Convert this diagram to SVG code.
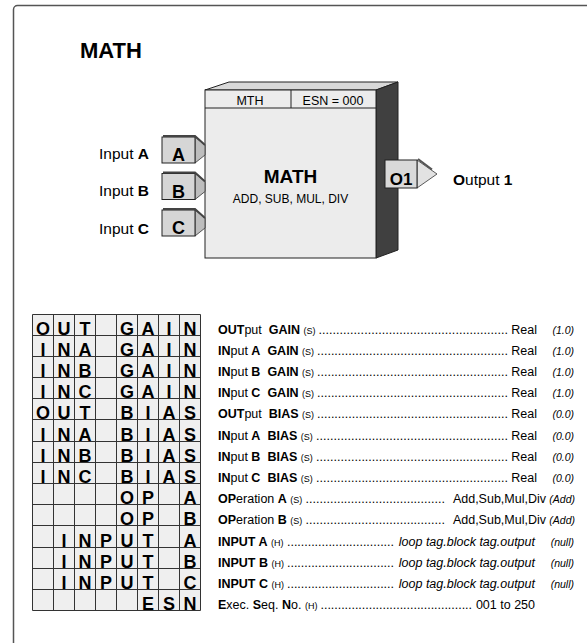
<svg xmlns="http://www.w3.org/2000/svg" width="587" height="643" viewBox="0 0 587 643">
<style>
text{font-family:"Liberation Sans",Arial,sans-serif;fill:#000}
.b{font-weight:bold}
.t{font-size:12.5px}
.s{font-size:9px}
.d{font-size:10.5px;font-style:italic}
.it{font-style:italic}
.g{font-size:18px;font-weight:bold;text-anchor:middle}
.lbl{font-size:15.5px}
.tabL{font-size:18px;font-weight:bold;text-anchor:middle}
.tab{fill:#d6d6d6;stroke:#222;stroke-width:1}
.tabside{fill:#bdbdbd;stroke:#333;stroke-width:0.8}
.bevel{fill:none;stroke:#444;stroke-width:2}
.end{text-anchor:end}
</style>
<rect width="587" height="643" fill="#fff"/>
<rect x="13.5" y="5.5" width="640" height="720" rx="4" fill="none" stroke="#555" stroke-width="1.5"/>
<text x="80" y="58" class="b" font-size="22">MATH</text>

<g id="math-block">
  <polygon points="205,90 229,82 398,82 376,90" fill="#d9d9d9" stroke="#222" stroke-width="1"/>
  <polygon points="376,90 398,82 398,250 376,258" fill="#404040" stroke="#222" stroke-width="1"/>
  <rect x="205" y="90" width="171" height="168" fill="#ececec" stroke="#222" stroke-width="1"/>
  <line x1="205" y1="108" x2="376" y2="108" stroke="#222" stroke-width="1"/>
  <line x1="291" y1="90" x2="291" y2="108" stroke="#222" stroke-width="1"/>
  <text x="250" y="105" font-size="12.5" text-anchor="middle">MTH</text>
  <text x="333" y="105" font-size="12.5" text-anchor="middle">ESN = 000</text>
  <text x="290.5" y="183" class="b" font-size="19" text-anchor="middle">MATH</text>
  <text x="290.5" y="203" font-size="12" text-anchor="middle">ADD, SUB, MUL, DIV</text>
</g>

<g id="input-a">
  <text x="149" y="159" class="lbl end">Input <tspan class="b">A</tspan></text>
  <polygon class="tabside" points="195,137 205,145 205,155 195,163"/>
  <rect class="tab" x="162" y="137" width="33" height="26"/>
  <polyline class="bevel" points="163,136 195,136 205,145"/>
  <text x="178.5" y="161" class="tabL">A</text>
</g>
<g id="input-b">
  <text x="149" y="196" class="lbl end">Input <tspan class="b">B</tspan></text>
  <polygon class="tabside" points="195,173.5 205,181.5 205,191.5 195,199.5"/>
  <rect class="tab" x="162" y="173.5" width="33" height="26"/>
  <polyline class="bevel" points="163,172.5 195,172.5 205,181.5"/>
  <text x="178.5" y="197.5" class="tabL">B</text>
</g>
<g id="input-c">
  <text x="149" y="234" class="lbl end">Input <tspan class="b">C</tspan></text>
  <polygon class="tabside" points="195,210 205,218 205,228 195,236"/>
  <rect class="tab" x="162" y="210" width="33" height="26"/>
  <polyline class="bevel" points="163,209 195,209 205,218"/>
  <text x="178.5" y="234" class="tabL">C</text>
</g>
<g id="output-1">
  <polygon points="417,160 437,174 417,188" fill="#e2e2e2" stroke="#333" stroke-width="0.8"/>
  <rect x="385" y="160" width="32" height="28" fill="#d9d9d9" stroke="#222" stroke-width="1"/>
  <line x1="418" y1="159" x2="432" y2="169.5" stroke="#555" stroke-width="2"/>
  <text x="401" y="185" class="b" font-size="17" text-anchor="middle">O1</text>
  <text x="453" y="184.5" class="lbl"><tspan class="b">O</tspan>utput <tspan class="b">1</tspan></text>
</g>
<g id="connectors"></g>

<g id="param-grid">
  <rect x="32.5" y="314.5" width="168" height="296" fill="#efefef"/>
  <path d="M32.5 314.5V610.5M53.5 314.5V610.5M74.5 314.5V610.5M95.5 314.5V610.5M116.5 314.5V610.5M137.5 314.5V610.5M158.5 314.5V610.5M179.5 314.5V610.5M200.5 314.5V610.5M32.5 314.5H200.5M32.5 335.5H200.5M32.5 356.5H200.5M32.5 377.5H200.5M32.5 398.5H200.5M32.5 419.5H200.5M32.5 441.5H200.5M32.5 462.5H200.5M32.5 483.5H200.5M32.5 504.5H200.5M32.5 525.5H200.5M32.5 547.5H200.5M32.5 568.5H200.5M32.5 589.5H200.5M32.5 610.5H200.5" fill="none" stroke="#333" stroke-width="1"/>
  <text class="g" y="335" x="43 64 85">OUT</text><text class="g" y="335" x="127 148 169 190">GAIN</text>
  <text class="g" y="356" x="43 64 85">INA</text><text class="g" y="356" x="127 148 169 190">GAIN</text>
  <text class="g" y="377" x="43 64 85">INB</text><text class="g" y="377" x="127 148 169 190">GAIN</text>
  <text class="g" y="398" x="43 64 85">INC</text><text class="g" y="398" x="127 148 169 190">GAIN</text>
  <text class="g" y="419" x="43 64 85">OUT</text><text class="g" y="419" x="127 148 169 190">BIAS</text>
  <text class="g" y="441" x="43 64 85">INA</text><text class="g" y="441" x="127 148 169 190">BIAS</text>
  <text class="g" y="462" x="43 64 85">INB</text><text class="g" y="462" x="127 148 169 190">BIAS</text>
  <text class="g" y="483" x="43 64 85">INC</text><text class="g" y="483" x="127 148 169 190">BIAS</text>
  <text class="g" y="504" x="127 148">OP</text><text class="g" y="504" x="190">A</text>
  <text class="g" y="525" x="127 148">OP</text><text class="g" y="525" x="190">B</text>
  <text class="g" y="547" x="64 85 106 127 148">INPUT</text><text class="g" y="547" x="190">A</text>
  <text class="g" y="568" x="64 85 106 127 148">INPUT</text><text class="g" y="568" x="190">B</text>
  <text class="g" y="589" x="64 85 106 127 148">INPUT</text><text class="g" y="589" x="190">C</text>
  <text class="g" y="610" x="148 169 190">ESN</text>
</g>

<g id="param-list" class="t">
  <text class="t" x="218" y="333.5"><tspan class="b">OUT</tspan>put <tspan class="b" dx="3.5">GAIN</tspan> <tspan class="s">(S)</tspan></text>
  <text class="t" x="318.5" y="333.5" textLength="189.5" lengthAdjust="spacing">......................................................</text>
  <text class="t end" x="537" y="333.5">Real</text><text class="d end" x="574" y="333.5">(1.0)</text>

  <text class="t" x="218" y="354.5"><tspan class="b">IN</tspan>put <tspan class="b">A</tspan> <tspan class="b" dx="3.5">GAIN</tspan> <tspan class="s">(S)</tspan></text>
  <text class="t" x="317" y="354.5" textLength="191" lengthAdjust="spacing">.......................................................</text>
  <text class="t end" x="537" y="354.5">Real</text><text class="d end" x="574" y="354.5">(1.0)</text>

  <text class="t" x="218" y="375.5"><tspan class="b">IN</tspan>put <tspan class="b">B</tspan> <tspan class="b" dx="3.5">GAIN</tspan> <tspan class="s">(S)</tspan></text>
  <text class="t" x="317" y="375.5" textLength="191" lengthAdjust="spacing">.......................................................</text>
  <text class="t end" x="537" y="375.5">Real</text><text class="d end" x="574" y="375.5">(1.0)</text>

  <text class="t" x="218" y="396.5"><tspan class="b">IN</tspan>put <tspan class="b">C</tspan> <tspan class="b" dx="3.5">GAIN</tspan> <tspan class="s">(S)</tspan></text>
  <text class="t" x="317" y="396.5" textLength="191" lengthAdjust="spacing">.......................................................</text>
  <text class="t end" x="537" y="396.5">Real</text><text class="d end" x="574" y="396.5">(1.0)</text>

  <text class="t" x="218" y="417.5"><tspan class="b">OUT</tspan>put <tspan class="b" dx="3.5">BIAS</tspan> <tspan class="s">(S)</tspan></text>
  <text class="t" x="317" y="417.5" textLength="191" lengthAdjust="spacing">.......................................................</text>
  <text class="t end" x="537" y="417.5">Real</text><text class="d end" x="574" y="417.5">(0.0)</text>

  <text class="t" x="218" y="439.5"><tspan class="b">IN</tspan>put <tspan class="b">A</tspan> <tspan class="b" dx="3.5">BIAS</tspan> <tspan class="s">(S)</tspan></text>
  <text class="t" x="316" y="439.5" textLength="192" lengthAdjust="spacing">.......................................................</text>
  <text class="t end" x="537" y="439.5">Real</text><text class="d end" x="574" y="439.5">(0.0)</text>

  <text class="t" x="218" y="460.5"><tspan class="b">IN</tspan>put <tspan class="b">B</tspan> <tspan class="b" dx="3.5">BIAS</tspan> <tspan class="s">(S)</tspan></text>
  <text class="t" x="316" y="460.5" textLength="192" lengthAdjust="spacing">.......................................................</text>
  <text class="t end" x="537" y="460.5">Real</text><text class="d end" x="574" y="460.5">(0.0)</text>

  <text class="t" x="218" y="481.5"><tspan class="b">IN</tspan>put <tspan class="b">C</tspan> <tspan class="b" dx="3.5">BIAS</tspan> <tspan class="s">(S)</tspan></text>
  <text class="t" x="316" y="481.5" textLength="192" lengthAdjust="spacing">.......................................................</text>
  <text class="t end" x="537" y="481.5">Real</text><text class="d end" x="574" y="481.5">(0.0)</text>

  <text class="t" x="218" y="502.5"><tspan class="b">OP</tspan>eration <tspan class="b">A</tspan> <tspan class="s">(S)</tspan></text>
  <text class="t" x="305.5" y="502.5" textLength="139.5" lengthAdjust="spacing">........................................</text>
  <text class="t end" x="546" y="502.5">Add,Sub,Mul,Div</text><text class="d end" x="575" y="502.5">(Add)</text>

  <text class="t" x="218" y="523.5"><tspan class="b">OP</tspan>eration <tspan class="b">B</tspan> <tspan class="s">(S)</tspan></text>
  <text class="t" x="305.5" y="523.5" textLength="139.5" lengthAdjust="spacing">........................................</text>
  <text class="t end" x="546" y="523.5">Add,Sub,Mul,Div</text><text class="d end" x="575" y="523.5">(Add)</text>

  <text class="t" x="218" y="545.5"><tspan class="b">INPUT A</tspan> <tspan class="s">(H)</tspan></text>
  <text class="t" x="287" y="545.5" textLength="107" lengthAdjust="spacing">...............................</text>
  <text class="t it end" x="535" y="545.5">loop tag.block tag.output</text><text class="d end" x="574" y="545.5">(null)</text>

  <text class="t" x="218" y="566.5"><tspan class="b">INPUT B</tspan> <tspan class="s">(H)</tspan></text>
  <text class="t" x="287" y="566.5" textLength="107" lengthAdjust="spacing">...............................</text>
  <text class="t it end" x="535" y="566.5">loop tag.block tag.output</text><text class="d end" x="574" y="566.5">(null)</text>

  <text class="t" x="218" y="587.5"><tspan class="b">INPUT C</tspan> <tspan class="s">(H)</tspan></text>
  <text class="t" x="287" y="587.5" textLength="107" lengthAdjust="spacing">...............................</text>
  <text class="t it end" x="535" y="587.5">loop tag.block tag.output</text><text class="d end" x="574" y="587.5">(null)</text>

  <text class="t" x="218" y="608.5"><tspan class="b">E</tspan>xec. <tspan class="b">S</tspan>eq. <tspan class="b">N</tspan>o. <tspan class="s">(H)</tspan></text>
  <text class="t" x="320.5" y="608.5" textLength="151.5" lengthAdjust="spacing">............................................</text>
  <text class="t end" x="535" y="608.5">001 to 250</text>
</g>
</svg>
